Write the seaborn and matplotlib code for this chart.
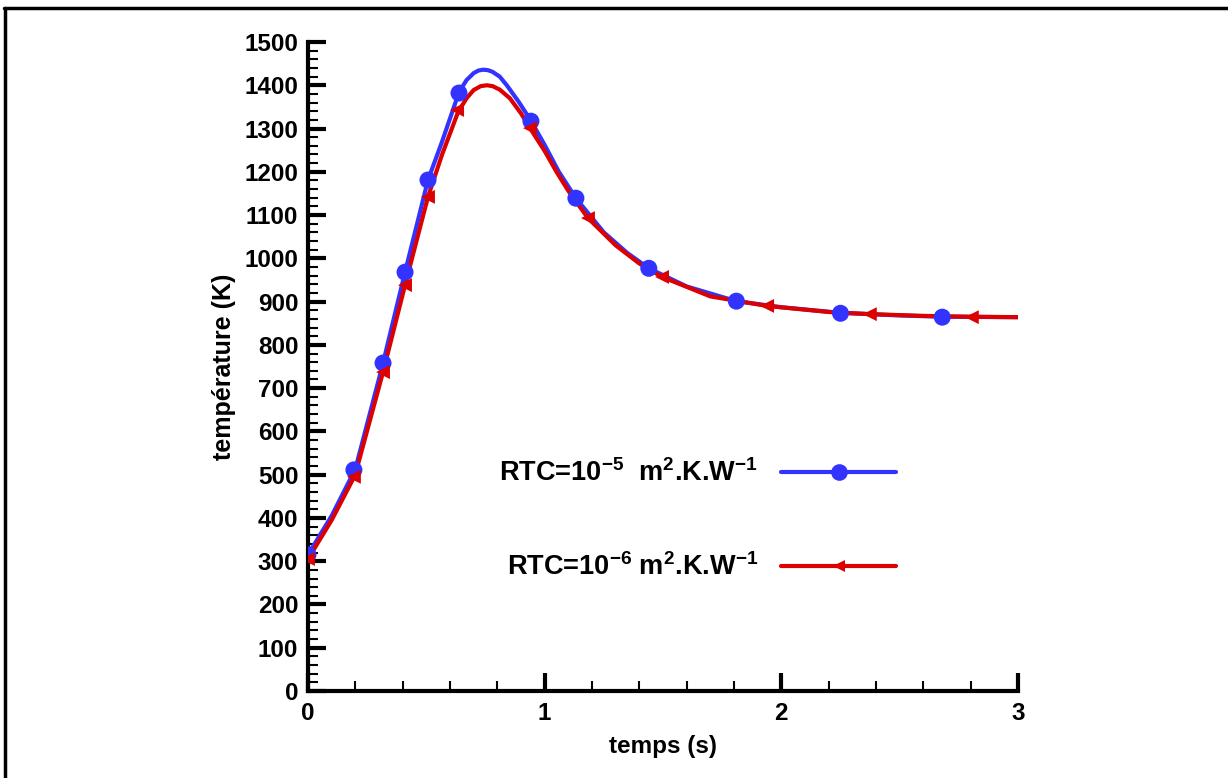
import numpy as np
import pandas as pd
import matplotlib
matplotlib.use("Agg")
import matplotlib.pyplot as plt
import seaborn as sns
from matplotlib.lines import Line2D
from matplotlib.ticker import MultipleLocator

# curve points (temps en s, temperature en K)
t_rtc5 = [0, 0.1, 0.2, 0.3, 0.317, 0.41, 0.507, 0.566, 0.638, 0.67, 0.70, 0.72, 0.739, 0.76,
          0.78, 0.81, 0.84, 0.89, 0.942, 1.0, 1.06, 1.132, 1.25, 1.35, 1.44, 1.6, 1.81, 2.0,
          2.25, 2.5, 2.68, 3.0]
T_rtc5 = [315, 405, 513, 722, 758, 968, 1181, 1269, 1384, 1412, 1428, 1434, 1436, 1435,
          1431, 1420, 1400, 1362, 1318, 1262, 1200, 1139, 1060, 1012, 977, 935, 901, 887,
          874, 868, 865, 864]

t_rtc6 = [0, 0.1, 0.199, 0.317, 0.41, 0.507, 0.566, 0.634, 0.67, 0.70, 0.73, 0.756, 0.78,
          0.81, 0.853, 0.90, 0.938, 1.0, 1.05, 1.1, 1.183, 1.3, 1.4, 1.496, 1.7, 1.94, 2.2,
          2.374, 2.6, 2.805, 3.0]
T_rtc6 = [305, 395, 499, 737, 938, 1142, 1239, 1338, 1370, 1389, 1398, 1400, 1398,
          1390, 1370, 1335, 1301, 1248, 1200, 1156, 1093, 1030, 988, 957, 912, 890, 876,
          871, 867, 865, 864]

# marker positions
tm_rtc5 = [0, 0.194, 0.317, 0.41, 0.507, 0.638, 0.942, 1.132, 1.44, 1.81, 2.25, 2.68]
Tm_rtc5 = [315, 511, 758, 968, 1181, 1382, 1317, 1139, 977, 901, 873, 864]
tm_rtc6 = [0, 0.194, 0.317, 0.41, 0.507, 0.63, 0.938, 1.183, 1.496, 1.94, 2.374, 2.805]
Tm_rtc6 = [305, 495, 737, 938, 1142, 1343, 1301, 1093, 957, 890, 871, 864]

labels = [r"RTC=10$^{-5}$  m$^{2}$.K.W$^{-1}$", r"RTC=10$^{-6}$ m$^{2}$.K.W$^{-1}$"]
blue = "#3333ff"
red = "#dd0000"

sns.set_style("white")
plt.rcParams["font.family"] = ["Liberation Sans", "DejaVu Sans"]
plt.rcParams["font.weight"] = "bold"
plt.rcParams["text.color"] = "black"
plt.rcParams["axes.labelcolor"] = "black"
plt.rcParams["mathtext.fontset"] = "custom"
plt.rcParams["mathtext.rm"] = "Liberation Sans:bold"
plt.rcParams["mathtext.bf"] = "Liberation Sans:bold"
plt.rcParams["mathtext.default"] = "bf"

fig = plt.figure(figsize=(12.28, 7.78), dpi=100)
ax = fig.add_axes([308 / 1228, 1 - 691 / 778, 710 / 1228, 649 / 778])

sns.lineplot(x=t_rtc5, y=T_rtc5, color=blue, lw=3, ax=ax, sort=False)
sns.lineplot(x=t_rtc6, y=T_rtc6, color=red, lw=3, ax=ax, sort=False)
sns.scatterplot(x=tm_rtc5, y=Tm_rtc5, color=blue, marker="o", s=150, edgecolor="none",
                ax=ax, zorder=3)
sns.scatterplot(x=tm_rtc6, y=Tm_rtc6, color=red, marker="<", s=100, edgecolor="none",
                ax=ax, zorder=4)

ax.set_xlim(0, 3)
ax.set_ylim(0, 1500)
ax.xaxis.set_major_locator(MultipleLocator(1))
ax.xaxis.set_minor_locator(MultipleLocator(0.2))
ax.yaxis.set_major_locator(MultipleLocator(100))
ax.yaxis.set_minor_locator(MultipleLocator(20))

for side in ["top", "right"]:
    ax.spines[side].set_visible(False)
for side in ["left", "bottom"]:
    ax.spines[side].set_linewidth(3)
    ax.spines[side].set_color("black")

ax.tick_params(which="both", bottom=True, left=True, top=False, right=False)
ax.tick_params(which="major", direction="in", length=13, width=3, labelsize=17.5,
               colors="black", pad=7)
ax.tick_params(which="minor", direction="in", length=7, width=1.5, colors="black")
ax.tick_params(axis="x", which="major", pad=8)
for lab in ax.get_xticklabels() + ax.get_yticklabels():
    lab.set_fontweight("bold")

ax.set_xlabel("temps (s)", fontsize=17.5, fontweight="bold", labelpad=7, color="black")
ax.set_ylabel("température (K)", fontsize=18, fontweight="bold", labelpad=6, color="black")

handles = [
    Line2D([], [], color=blue, lw=3, marker="o", markersize=12, markeredgewidth=0),
    Line2D([], [], color=red, lw=3, marker="<", markersize=9, markeredgewidth=0),
]
leg = ax.legend(handles, labels, loc="upper left", bbox_to_anchor=(0.25, 0.378),
                frameon=False, markerfirst=False, handlelength=4.25, handletextpad=0.85,
                labelspacing=2.45, borderpad=0, numpoints=1,
                prop={"size": 19.5, "weight": "bold"})
for txt in leg.get_texts():
    txt.set_color("black")

# frame lines of the original figure
fig.add_artist(Line2D([4 / 1228, 1], [1 - 8 / 778, 1 - 8 / 778], color="black", lw=2.5,
                      transform=fig.transFigure))
fig.add_artist(Line2D([5 / 1228, 5 / 1228], [0, 1 - 8 / 778], color="black", lw=2.5,
                      transform=fig.transFigure))

fig.savefig("out.png", dpi=100)
